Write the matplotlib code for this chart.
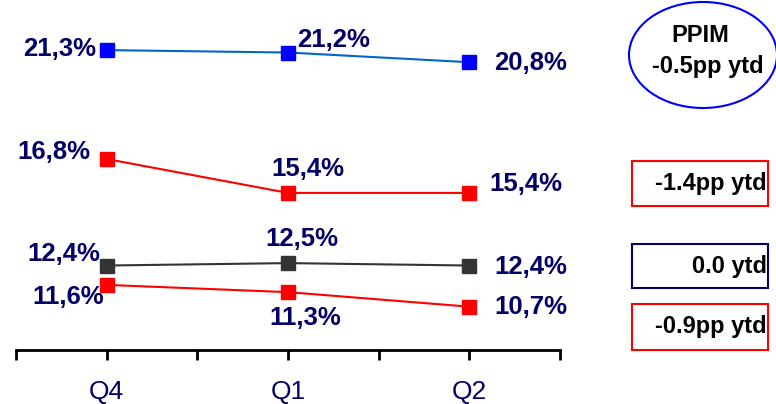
import matplotlib.pyplot as plt
from matplotlib.patches import Ellipse, Rectangle

plt.rcParams['font.family'] = ['Liberation Sans', 'DejaVu Sans']

quarters = ["Q4", "Q1", "Q2"]
ppim = [21.3, 21.2, 20.8]
red_top = [16.8, 15.4, 15.4]
grey = [12.4, 12.5, 12.4]
red_low = [11.6, 11.3, 10.7]

navy = "#000066"
x = [0.5, 1.5, 2.5]

fig = plt.figure(figsize=(7.76, 4.04), dpi=100)
ax = fig.add_axes([16/776, 54/404, 544/776, 350/404])

ax.plot(x, ppim, color="#0066CC", lw=1.5, marker="s", ms=9.5, mfc="#0000FF", mec="#0000FF")
ax.plot(x, red_top, color="#FF0000", lw=1.5, marker="s", ms=9.5)
ax.plot(x, grey, color="#333333", lw=1.5, marker="s", ms=9.5)
ax.plot(x, red_low, color="#FF0000", lw=1.5, marker="s", ms=9.5)

def lab(xi, val, dx, dy, ha):
    ax.annotate("{:.1f}%".format(val).replace(".", ","), (xi, val),
                xytext=(dx, dy), textcoords="offset pixels",
                ha=ha, va="center", fontsize=18.5, fontweight="bold", color=navy)

# label offsets in pixels per point
lab(x[0], ppim[0], -11, 1, "right")
lab(x[1], ppim[1], 9, 13, "left")
lab(x[2], ppim[2], 25, -1, "left")
lab(x[0], red_top[0], -16, 7, "right")
lab(x[1], red_top[1], 20, 24, "center")
lab(x[2], red_top[2], 20, 9, "left")
lab(x[0], grey[0], -6, 12, "right")
lab(x[1], grey[1], 14, 24, "center")
lab(x[2], grey[2], 25, -1, "left")
lab(x[0], red_low[0], -3, -12, "right")
lab(x[1], red_low[1], 17, -26, "center")
lab(x[2], red_low[2], 25, 0, "left")

ax.set_xlim(0, 3)
ax.set_ylim(8.91, 23.37)
ax.set_xticks([0, 1, 2, 3, 0.5, 1.5, 2.5])
ax.set_xticklabels(["", "", "", "", "Q4", "Q1", "Q2"])
ax.tick_params(axis="x", direction="out", length=7, width=2, pad=14.5,
               labelsize=19, labelcolor=navy)
ax.set_yticks([])
for s in ["top", "left", "right"]:
    ax.spines[s].set_visible(False)
ax.spines["bottom"].set_linewidth(2)

# summary boxes on the right
fig.patches.append(Ellipse((703/776, 1 - 55/404), 148/776, 106/404,
                           transform=fig.transFigure, fill=False, ec="#0000FF", lw=1.5))
fig.text(700/776, 1 - 35/404, "PPIM", ha="center", va="center",
         fontsize=17, fontweight="bold")
fig.text(708/776, 1 - 66/404, "-0.5pp ytd", ha="center", va="center",
         fontsize=17, fontweight="bold")

boxes = [(161, 206, "#FF0000", "-1.4pp ytd"),
         (244, 288, "#000066", "0.0 ytd"),
         (304, 350, "#FF0000", "-0.9pp ytd")]
for top, bot, ec, txt in boxes:
    fig.patches.append(Rectangle((632/776, 1 - bot/404), 136/776, (bot - top)/404,
                                 transform=fig.transFigure, fill=False, ec=ec, lw=1.5))
    fig.text(767/776, 1 - (top + bot)/2/404, txt, ha="right", va="center",
             fontsize=17, fontweight="bold")

fig.savefig("out.png", dpi=100)
